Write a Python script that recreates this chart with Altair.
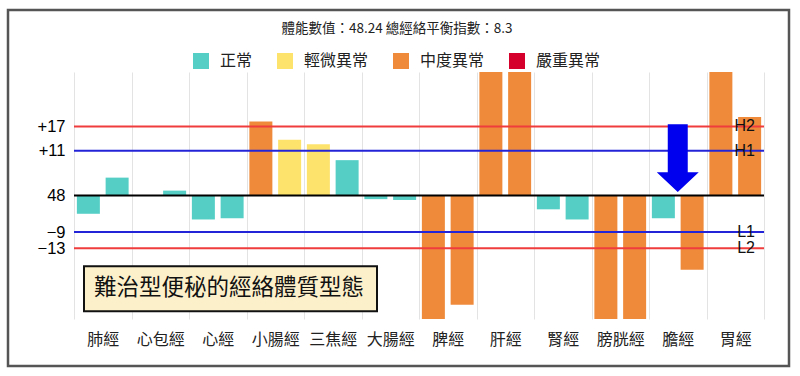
import altair as alt
import pandas as pd

# ---- data ----
categories = ["肺經", "心包經", "心經", "小腸經", "三焦經", "大腸經",
              "脾經", "肝經", "腎經", "膀胱經", "膽經", "胃經"]
sides = ["左", "右"]
left_values = [-4.5, 0.0, -5.9, 18.2, 12.6, -0.9, -36.0, 36.0, -3.4, -36.0, -5.6, 36.0]
right_values = [4.4, 1.2, -5.6, 13.7, 8.7, -1.1, -26.9, 36.0, -5.9, -36.0, -18.3, 19.3]
left_status = ["正常", "正常", "正常", "中度異常", "輕微異常", "正常",
               "中度異常", "中度異常", "正常", "中度異常", "正常", "中度異常"]
right_status = ["正常", "正常", "正常", "輕微異常", "正常", "正常",
                "中度異常", "中度異常", "正常", "中度異常", "中度異常", "中度異常"]

status_levels = ["正常", "輕微異常", "中度異常", "嚴重異常"]
status_colors = ["#55cfc6", "#fde36c", "#ef8a3b", "#d6002c"]

ref_values = [17, 11, -9, -13]
ref_names = ["H2", "H1", "L1", "L2"]
ref_colors = ["#f03c3c", "#2323d8", "#2323d8", "#f03c3c"]

axis_values = [17, 11, 0, -9, -13]
title_text = "體能數值：48.24 總經絡平衡指數：8.3"
note_text = "難治型便秘的經絡體質型態"
arrow_category = "膽經"
arrow_value = 9.2
note_top = -17.4
note_bottom = -28.5

CJK = "Noto Sans CJK TC"
LAT = "Liberation Sans"

rows = []
for i, c in enumerate(categories):
    rows.append({"category": c, "side": "左", "value": left_values[i], "status": left_status[i]})
    rows.append({"category": c, "side": "右", "value": right_values[i], "status": right_status[i]})
bars_df = pd.DataFrame(rows)
ref_df = pd.DataFrame({"value": ref_values, "name": ref_names, "color": ref_colors})
zero_df = pd.DataFrame({"value": [0]})
arrow_df = pd.DataFrame({"category": [arrow_category], "value": [arrow_value]})
note_df = pd.DataFrame({"value": [note_top], "value2": [note_bottom], "text": [note_text]})
one_df = pd.DataFrame({"a": [0]})

W, H = 690, 247

x_scale = alt.Scale(domain=categories, paddingInner=0, paddingOuter=0)
x_axis = alt.Axis(title=None, labelAngle=0, domain=False, ticks=False, grid=True,
                  gridColor="#e3e3e3", gridWidth=1, tickBand="extent",
                  labelFontSize=16, labelFont=CJK, labelColor="#222", labelPadding=12)
y_scale = alt.Scale(domain=[-30.4, 30.4], nice=False, zero=False)
y_axis = alt.Axis(title=None, values=axis_values, grid=False, domain=False, ticks=False,
                  labelFontSize=16.5, labelFont=LAT, labelColor="#000", labelPadding=9,
                  labelOverlap=False, labelBound=False,
                  labelExpr="datum.value == 0 ? '48' : (datum.value > 0 ? '+' + datum.value : '\u2212' + abs(datum.value))")


def X():
    return alt.X("category:N", sort=categories, scale=x_scale, axis=x_axis)


def Y(field="value"):
    return alt.Y(f"{field}:Q", scale=y_scale, axis=y_axis)


frame = alt.Chart(one_df).mark_rect(fill=None, stroke="#555", strokeWidth=2.5, clip=False).encode(
    x=alt.value(-66), x2=alt.value(715), y=alt.value(-62), y2=alt.value(294))

bars = alt.Chart(bars_df).mark_bar(clip=True).encode(
    x=X(),
    xOffset=alt.XOffset("side:N", sort=sides, scale=alt.Scale(paddingInner=0.2, paddingOuter=0.1)),
    y=Y(),
    color=alt.Color("status:N", scale=alt.Scale(domain=status_levels, range=status_colors),
                    legend=alt.Legend(orient="none", legendX=119, legendY=-19, direction="horizontal",
                                      title=None, symbolType="square", symbolSize=256,
                                      symbolStrokeWidth=0, symbolOpacity=1, labelFontSize=16,
                                      labelFont=CJK, labelColor="#222", columnPadding=24,
                                      labelOffset=11, padding=0)),
)

ref_lines = alt.Chart(ref_df).mark_rule(strokeWidth=2).encode(
    y=Y(), color=alt.Color("color:N", scale=None))

zero_line = alt.Chart(zero_df).mark_rule(strokeWidth=2, color="#000").encode(y=Y())

ref_labels = alt.Chart(ref_df).mark_text(align="right", baseline="middle", fontSize=16,
                                         font=LAT, color="#111").encode(
    x=alt.value(681), y=Y(), text="name:N")

arrow_path = "M-0.476,-1.61 L0.476,-1.61 L0.476,0.667 L1,0.667 L0,1.61 L-1,0.667 L-0.476,0.667 Z"
arrow = alt.Chart(arrow_df).mark_point(shape=arrow_path, size=1764, filled=True,
                                       color="#0000ee", opacity=1, strokeWidth=0).encode(
    x=X(), y=Y())

note_box = alt.Chart(note_df).mark_rect(fill="#fcf0ca", stroke="#111", strokeWidth=2).encode(
    x=alt.value(10), x2=alt.value(303), y=Y(), y2="value2:Q")

note_label = alt.Chart(note_df).mark_text(fontSize=22.5, font=CJK, color="#111",
                                          align="center", baseline="middle").encode(
    x=alt.value(155), y=alt.value(215.5), text="text:N")

title = alt.Chart(one_df).mark_text(fontSize=13.5, font=CJK, color="#222",
                                    align="center", baseline="middle").encode(
    x=alt.value(323), y=alt.value(-43), text=alt.value(title_text))

chart = alt.layer(frame, bars, ref_lines, zero_line, ref_labels, arrow, note_box, note_label, title).properties(
    width=W, height=H,
    autosize=alt.AutoSizeParams(type="none"),
    padding={"left": 74, "top": 72, "right": 36, "bottom": 57},
    background="white",
).configure_view(stroke=None)

chart.save("out.html", embed_options={"renderer": "svg", "actions": False})
